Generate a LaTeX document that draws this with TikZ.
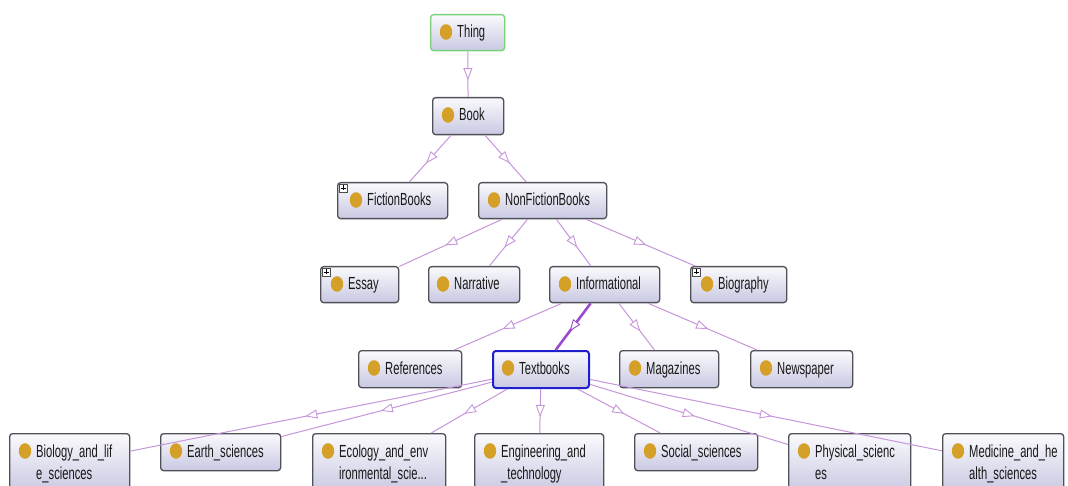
\documentclass[tikz,border=0pt]{standalone}
\usepackage{fontspec}
\newfontfamily\lblfont{Liberation Sans}[FakeStretch=0.64]
\usetikzlibrary{arrows.meta,decorations.markings,calc}
\definecolor{edgec}{RGB}{198,150,218}
\definecolor{hedgec}{RGB}{155,75,205}
\definecolor{dotc}{RGB}{212,160,40}
\definecolor{boxtop}{RGB}{250,250,253}
\definecolor{boxbot}{RGB}{200,200,226}
\definecolor{boxline}{RGB}{80,80,88}
\definecolor{thingline}{RGB}{120,210,120}
\definecolor{selline}{RGB}{30,30,205}
\tikzset{
  box/.style={draw=boxline, line width=1.3pt, rounded corners=3pt, top color=boxtop, bottom color=boxbot, inner sep=0pt},
  lbl/.style={font=\lblfont\fontsize{17.5pt}{20pt}\selectfont, text=black!90, inner sep=0pt},
  gdot/.style={fill=dotc},
  midtri/.style={postaction={decorate}, decoration={markings, mark=at position 0.5 with {\arrow[xshift=6pt]{Triangle[length=12pt,width=9pt,fill=white,line width=0.9pt]}}}},
  edge/.style={draw=edgec, line width=1pt, midtri},
  hedge/.style={draw=hedgec, line width=2.6pt, midtri},
  plusbox/.style={fill=white, draw=black!70, line width=0.6pt},
}
% name, left, top, right, bottom, style, line1, line2, dot x offset
\newcommand\cnode[9]{%
  \node[box,#6,anchor=north west,minimum width={(#4-#2)*1pt},minimum height={(#5-#3)*1pt}] (#1) at (#2,#3) {};
  \fill[gdot] (#2+#9,#3+18) ellipse [x radius=6.2pt, y radius=7.8pt];
  \node[lbl,anchor=base west] (#1-a) at (#2+#9+11,#3+24) {#7};
  \node[lbl,anchor=base west] (#1-b) at (#2+#9+11,#3+46) {#8};
}
\newcommand\plusicon[2]{%
  \draw[plusbox] (#1+2,#2+2) rectangle (#1+10,#2+10);
  \draw[line width=0.6pt] (#1+3.5,#2+6) -- (#1+8.5,#2+6) (#1+6,#2+3.5) -- (#1+6,#2+8.5);
}
\begin{document}
\begin{tikzpicture}[x=1pt,y=-1pt]
\useasboundingbox (0,0) rectangle (1068,486);
\clip (0,0) rectangle (1068,486);
\fill[white] (0,0) rectangle (1068,486);

\cnode{thing}{430}{14}{504}{50}{draw=thingline}{Thing}{}{16}
\cnode{book}{432}{97}{503}{134}{}{Book}{}{16}
\cnode{fiction}{337}{182}{447}{218}{}{FictionBooks}{}{19}
\plusicon{337}{182}
\cnode{nonfiction}{478}{182}{606}{218}{}{NonFictionBooks}{}{16}
\cnode{essay}{320}{266}{398}{302}{}{Essay}{}{17}
\plusicon{320}{266}
\cnode{narrative}{428}{266}{519}{302}{}{Narrative}{}{15}
\cnode{informational}{549}{266}{659}{302}{}{Informational}{}{16}
\cnode{biography}{690}{266}{786}{302}{}{Biography}{}{17}
\plusicon{690}{266}
\cnode{references}{358}{350}{461}{387}{}{References}{}{16}
\cnode{textbooks}{492}{350}{588}{387}{draw=selline,line width=2pt}{Textbooks}{}{16}
\cnode{magazines}{619}{350}{718}{387}{}{Magazines}{}{16}
\cnode{newspaper}{750}{350}{852}{387}{}{Newspaper}{}{16}
\cnode{biology}{9}{433}{129}{492}{}{Biology\_and\_lif}{e\_sciences}{16}
\cnode{earth}{160}{433}{280}{470}{}{Earth\_sciences}{}{16}
\cnode{ecology}{312}{433}{445}{492}{}{Ecology\_and\_env}{ironmental\_scie...}{16}
\cnode{engineering}{474}{433}{603}{492}{}{Engineering\_and}{\_technology}{16}
\cnode{social}{634}{433}{757}{470}{}{Social\_sciences}{}{16}
\cnode{physical}{788}{433}{910}{492}{}{Physical\_scienc}{es}{16}
\cnode{medicine}{942}{433}{1063}{492}{}{Medicine\_and\_he}{alth\_sciences}{16}

\draw[edge] (thing) -- (book);
\draw[edge] (book) -- (fiction);
\draw[edge] (book) -- (nonfiction);
\draw[edge] (nonfiction) -- (essay);
\draw[edge] (nonfiction) -- (narrative);
\draw[edge] (nonfiction) -- (informational);
\draw[edge] (nonfiction) -- (biography);
\draw[edge] (informational) -- (references);
\draw[hedge] (informational) -- (textbooks);
\draw[edge] (informational) -- (magazines);
\draw[edge] (informational) -- (newspaper);
\draw[edge] (textbooks) -- (biology);
\draw[edge] (textbooks) -- (earth);
\draw[edge] (textbooks) -- (ecology);
\draw[edge] (textbooks) -- (engineering);
\draw[edge] (textbooks) -- (social);
\draw[edge] (textbooks) -- (physical);
\draw[edge] (textbooks) -- (medicine);
\end{tikzpicture}
\end{document}
